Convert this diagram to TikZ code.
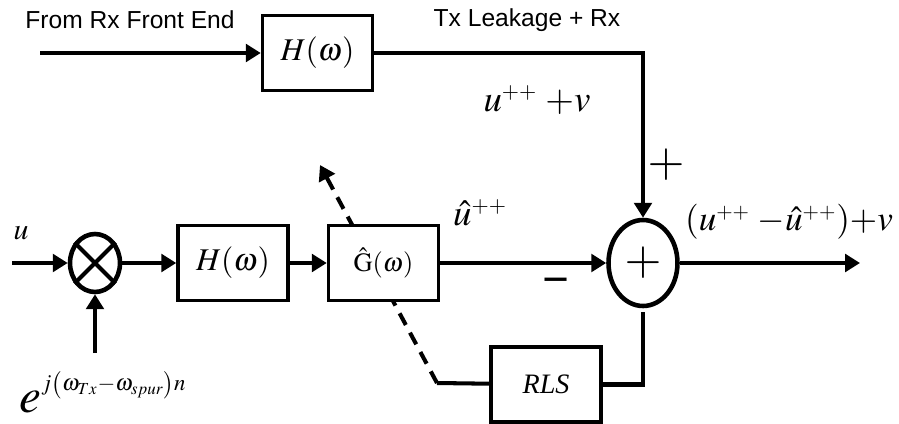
\documentclass[tikz,border=0pt]{standalone}
\usepackage{mathptmx}
\usepackage{fontspec}
\setmainfont{Liberation Serif}
\newfontfamily\arialfont{Liberation Sans}
\usetikzlibrary{arrows.meta, positioning, shapes.geometric}
\newcommand{\pp}{^{\scriptscriptstyle ++}}
\tikzset{
  block/.style={rectangle,draw,fill=white,line width=2pt,minimum width=2.2cm,minimum height=1.5cm,inner sep=0pt},
  junction/.style={ellipse,draw,fill=white,line width=2.6pt,inner sep=0pt},
  sig/.style={line width=2.3pt,-{Triangle[length=8.5pt,width=10pt]}},
  wire/.style={line width=2.3pt},
  note/.style={font=\fontsize{14}{16}\selectfont\arialfont},
  mathlbl/.style={font=\fontsize{21}{24}\selectfont,inner sep=0pt}
}
\begin{document}
\begin{tikzpicture}[x=0.02cm,y=0.02cm]
\useasboundingbox (0,0) rectangle (899,423);
\coordinate (tap) at (437,40);
\coordinate (tip) at (320,258);
\draw[sig,dash pattern=on 7.5pt off 5pt] (tap) -- (tip);

\node[block] (htop) at (317.5,370) {\fontsize{18}{20}\selectfont$H(\omega)$};
\node[junction,minimum width=1cm,minimum height=1.16cm] (mul) at (95,160) {};
\node[block] (hmain) at (233,160) {\fontsize{18}{20}\selectfont$H(\omega)$};
\node[block] (ghat) at (383.5,160) {\fontsize{15}{17}\selectfont$\hat{\mathrm{G}}(\omega)$};
\node[junction,minimum width=1.38cm,minimum height=1.72cm] (sum) at (643,160) {\fontsize{27}{27}\selectfont$+$};
\node[block] (rls) at (546,38.5) {\fontsize{16}{18}\selectfont\textit{RLS}};

\coordinate (rxin) at (40,370);
\coordinate (uin) at (12,160);
\coordinate (osc) at (95,70);
\coordinate (out) at (860,160);

\draw[sig] (rxin) -- (htop);
\draw[sig] (htop) -| (sum);
\draw[sig] (uin) -- (mul);
\draw[sig] (osc) -- (mul);
\draw[sig] (mul) -- (hmain);
\draw[sig] (hmain) -- (ghat);
\draw[sig] (ghat) -- (sum);
\draw[sig] (sum) -- (out);
\draw[wire] (tap) -- (rls);
\draw[wire,shorten >=2pt] (rls) -| (sum);
\draw[wire] (mul.45) -- (mul.225) (mul.135) -- (mul.315);

\node[note] (rxlbl) at (130,403) {From Rx Front End};
\node[note] (leaklbl) at (527,403) {Tx Leakage + Rx};
\node[mathlbl] (sumin) at (537,323) {$u\pp\;{+}v$};
\node[font=\fontsize{27}{27}\selectfont,inner sep=0pt] (plus) at (666,258) {$+$};
\node[mathlbl] (uhat) at (480,210) {$\hat{u}\pp$};
\node[font=\fontsize{27}{27}\selectfont\bfseries,inner sep=0pt] (minus) at (556,136) {−};
\node[mathlbl,font=\fontsize{20}{24}\selectfont] (outlbl) at (789,201) {$(u\pp\;{-}\hat{u}\pp){+}v$};
\node[font=\fontsize{17}{19}\selectfont,inner sep=0pt] (ulbl) at (21,190) {$u$};
\node[anchor=base west,inner sep=0pt] (phase) at (19,11)
  {\fontsize{28}{28}\selectfont$e^{\raisebox{2pt}{\fontsize{13}{13}\selectfont$j\bigl(\omega_{Tx}{-}\omega_{spur}\bigr)n$}}$};
\end{tikzpicture}
\end{document}
